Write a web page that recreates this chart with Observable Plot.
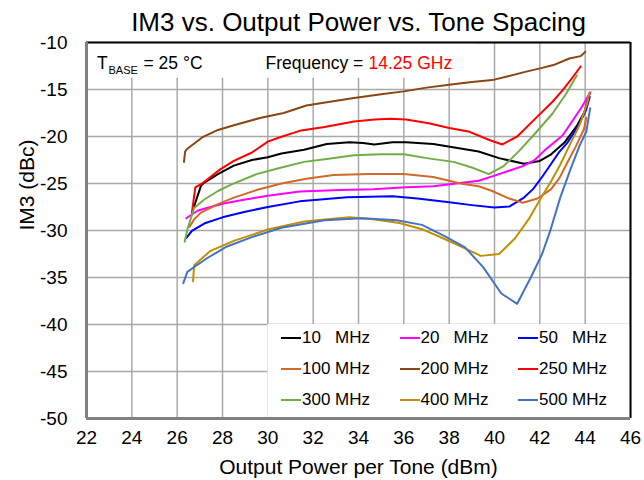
<!DOCTYPE html>
<html>
<head>
<meta charset="utf-8">
<script src="https://cdn.jsdelivr.net/npm/d3@7"></script>
<script src="https://cdn.jsdelivr.net/npm/@observablehq/plot@0.6"></script>
<style>
  html, body { margin: 0; padding: 0; background: #fff; }
  #wrap { position: relative; width: 644px; height: 480px; font-family: "Liberation Sans", Arial, sans-serif; }
  #wrap svg { position: absolute; left: 0; top: 0; }
  #legend { position: absolute; left: 267px; top: 323px; width: 363px; height: 95px; }
  .item { position: absolute; display: flex; align-items: center; font-size: 17px; white-space: pre; color: #000; line-height: 1; }
  .sw { display: inline-block; width: 20px; height: 2px; margin-right: 1px; }
</style>
</head>
<body>
<div id="wrap"></div>
<script>
// ---- data ----
const seriesNames = ["10   MHz", "20   MHz", "50   MHz", "100 MHz", "200 MHz", "250 MHz", "300 MHz", "400 MHz", "500 MHz"];
const seriesColors = ["#000000", "#FF00FF", "#0000FF", "#D0692A", "#8B4513", "#FF0000", "#70AD47", "#BF9000", "#4472C4"];

const pout10 = [26.75, 27.05, 27.2, 27.8, 28.5, 29.3, 30.0, 30.6, 31.6, 32.6, 33.6, 34.2, 34.7, 35.5, 36.1, 37.3, 38.3, 39.3, 40.2, 41.3, 42.0, 42.5, 43.1, 43.65, 43.97, 44.2];
const im3_10 = [-27.4, -25.25, -24.9, -24.0, -23.1, -22.5, -22.2, -21.8, -21.4, -20.8, -20.6, -20.7, -20.85, -20.6, -20.6, -20.8, -21.2, -21.6, -22.3, -22.9, -22.6, -21.9, -20.6, -18.8, -17.4, -15.4];

const pout20 = [26.4, 26.9, 27.3, 28.1, 29.0, 30.0, 31.4, 33.2, 34.65, 36.1, 37.3, 38.3, 39.3, 40.2, 41.25, 41.75, 42.2, 43.0, 43.45, 43.8, 44.04, 44.22];
const im3_20 = [-28.7, -27.9, -27.6, -27.1, -26.7, -26.3, -25.85, -25.7, -25.6, -25.4, -25.3, -25.0, -24.7, -24.0, -23.15, -22.55, -21.5, -19.9, -18.3, -17.05, -16.1, -15.3];

const pout50 = [26.4, 26.65, 27.25, 28.0, 29.0, 30.0, 31.4, 33.5, 35.5, 36.6, 38.0, 39.0, 40.0, 40.65, 41.3, 41.7, 42.13, 42.87, 43.2, 43.67, 44.04, 44.2];
const im3_50 = [-30.8, -30.05, -29.2, -28.6, -28.0, -27.5, -26.9, -26.45, -26.35, -26.6, -27.0, -27.3, -27.55, -27.45, -26.5, -25.6, -24.2, -21.6, -20.7, -19.0, -17.2, -15.8];

const pout100 = [26.55, 26.75, 27.05, 27.8, 28.5, 29.5, 30.6, 31.7, 32.9, 34.5, 36.0, 37.3, 38.5, 39.3, 39.9, 40.65, 41.25, 41.9, 42.5, 42.87, 43.25, 43.6, 43.95, 44.05];
const im3_100 = [-29.6, -28.8, -28.1, -27.2, -26.5, -25.7, -25.0, -24.5, -24.1, -24.0, -24.0, -24.3, -25.0, -25.3, -25.8, -26.6, -27.05, -26.6, -25.6, -24.4, -22.6, -21.0, -19.2, -18.0];

const pout200 = [26.3, 26.35, 26.45, 27.1, 27.8, 28.5, 29.7, 30.7, 31.7, 32.6, 33.8, 35.0, 36.0, 37.0, 38.0, 39.0, 39.9, 40.6, 41.4, 42.1, 42.6, 43.3, 43.8, 44.0];
const im3_200 = [-22.7, -21.6, -21.3, -20.1, -19.3, -18.8, -18.0, -17.5, -16.7, -16.35, -15.9, -15.5, -15.2, -14.8, -14.5, -14.2, -14.0, -13.6, -13.1, -12.7, -12.4, -11.7, -11.45, -11.0];

const pout250 = [26.65, 26.8, 27.1, 27.9, 28.5, 29.3, 30.0, 30.5, 31.4, 32.5, 33.8, 34.7, 35.4, 36.1, 37.1, 38.0, 38.9, 39.8, 40.35, 41.0, 41.8, 42.56, 43.0, 43.45, 43.8];
const im3_250 = [-28.1, -25.4, -25.0, -23.5, -22.6, -21.7, -20.55, -20.1, -19.4, -19.0, -18.4, -18.2, -18.1, -18.2, -18.6, -19.1, -19.5, -20.4, -20.85, -20.0, -18.1, -16.3, -15.1, -13.7, -12.55];

const pout300 = [26.33, 26.45, 26.75, 27.2, 27.8, 28.4, 29.5, 30.6, 31.6, 32.6, 33.8, 35.0, 36.0, 37.0, 38.2, 39.0, 39.75, 40.4, 41.1, 41.82, 42.56, 43.16, 43.63];
const im3_300 = [-31.2, -29.9, -27.6, -26.7, -25.8, -25.1, -24.0, -23.3, -22.7, -22.4, -22.0, -21.9, -21.9, -22.3, -22.7, -23.3, -24.0, -23.15, -21.5, -19.6, -17.55, -15.45, -13.5];

const pout400 = [26.7, 26.75, 27.45, 28.5, 30.0, 31.6, 33.6, 34.65, 35.8, 36.85, 37.7, 38.6, 39.4, 40.2, 40.9, 41.55, 42.06, 42.5, 42.9, 43.3, 43.75, 44.1, 44.18];
const im3_400 = [-35.4, -33.7, -32.2, -31.1, -29.9, -29.05, -28.6, -28.8, -29.2, -29.9, -30.8, -31.8, -32.7, -32.5, -30.85, -28.65, -26.5, -24.75, -23.0, -21.0, -18.8, -16.4, -15.4];

const pout500 = [26.27, 26.45, 26.8, 27.35, 28.2, 29.3, 30.6, 32.5, 34.15, 35.7, 36.8, 37.8, 38.7, 39.5, 40.3, 41.0, 41.6, 42.1, 42.45, 42.9, 43.35, 43.75, 44.05, 44.22];
const im3_500 = [-35.6, -34.4, -33.8, -32.9, -31.7, -30.7, -29.7, -28.9, -28.7, -28.9, -29.4, -30.6, -31.8, -33.9, -36.7, -37.8, -35.0, -32.5, -30.1, -26.5, -23.5, -21.0, -19.5, -17.0];

const xTicks = [22, 24, 26, 28, 30, 32, 34, 36, 38, 40, 42, 44, 46];
const yTicks = [-10, -15, -20, -25, -30, -35, -40, -45, -50];

const titleText = "IM3 vs. Output Power vs. Tone Spacing";
const xLabel = "Output Power per Tone (dBm)";
const yLabel = "IM3 (dBc)";
const freqLabel = "Frequency =";
const freqValue = "14.25 GHz";

// ---- build rows ----
const xs = [pout10, pout20, pout50, pout100, pout200, pout250, pout300, pout400, pout500];
const ys = [im3_10, im3_20, im3_50, im3_100, im3_200, im3_250, im3_300, im3_400, im3_500];
const rows = [];
seriesNames.forEach((s, i) => xs[i].forEach((x, j) => rows.push({s, x, y: ys[i][j]})));

// layout boxes (white backgrounds in data space)
const boxes = [
  {x1: 22, x2: 28, y1: -13.8, y2: -10},
  {x1: 28, x2: 39.2, y1: -13.8, y2: -10},
  {x1: 30, x2: 46, y1: -50, y2: -40}
];

const font = "Liberation Sans, Arial, sans-serif";
const grid = "#a9a9a9";

const plot = Plot.plot({
  width: 644, height: 480,
  marginTop: 42, marginBottom: 62, marginLeft: 86, marginRight: 14,
  style: {fontFamily: font, background: "white", overflow: "visible"},
  x: {domain: [22, 46], axis: null},
  y: {domain: [-50, -10], axis: null},
  color: {domain: seriesNames, range: seriesColors},
  marks: [
    Plot.gridX(xTicks, {stroke: grid, strokeOpacity: 1, strokeWidth: 1.5}),
    Plot.gridY(yTicks, {stroke: grid, strokeOpacity: 1, strokeWidth: 1.5}),
    Plot.rect(boxes, {x1: "x1", x2: "x2", y1: "y1", y2: "y2", fill: "white"}),
    Plot.ruleY([-10], {stroke: "#000", strokeWidth: 2}),
    Plot.ruleX([46], {stroke: "#000", strokeWidth: 2}),
    Plot.ruleX([22], {stroke: "#808080", strokeWidth: 3}),
    Plot.ruleY([-50], {stroke: "#808080", strokeWidth: 3}),
    Plot.line(rows, {x: "x", y: "y", z: "s", stroke: "s", strokeWidth: 2, strokeLinejoin: "round"}),
    Plot.text(xTicks, {x: d => d, frameAnchor: "bottom", dy: 12, lineAnchor: "top", fontSize: 19, fill: "#000"}),
    Plot.text(yTicks, {y: d => d, frameAnchor: "left", dx: -19, textAnchor: "end", fontSize: 19, fill: "#000"}),
    Plot.text([titleText], {frameAnchor: "top", dy: -12, lineAnchor: "bottom", fontSize: 26, fill: "#000"}),
    Plot.text([xLabel], {frameAnchor: "bottom", dy: 55, lineAnchor: "bottom", fontSize: 21, fill: "#000"}),
    Plot.text([yLabel], {frameAnchor: "left", dx: -59, rotate: -90, fontSize: 21, fill: "#000"}),
    Plot.text(["T"], {frameAnchor: "top-left", dx: 10.5, dy: 26, lineAnchor: "bottom", textAnchor: "start", fontSize: 17.5, fill: "#000"}),
    Plot.text(["BASE"], {frameAnchor: "top-left", dx: 22, dy: 31, lineAnchor: "bottom", textAnchor: "start", fontSize: 11, fill: "#000"}),
    Plot.text(["= 25 °C"], {frameAnchor: "top-left", dx: 57, dy: 26, lineAnchor: "bottom", textAnchor: "start", fontSize: 17.5, fill: "#000"}),
    Plot.text([freqLabel], {frameAnchor: "top-left", dx: 179, dy: 26, lineAnchor: "bottom", textAnchor: "start", fontSize: 17.5, fill: "#000"}),
    Plot.text([freqValue], {frameAnchor: "top-left", dx: 282, dy: 26, lineAnchor: "bottom", textAnchor: "start", fontSize: 17.5, fill: "#FF0000"})
  ]
});

const wrap = document.getElementById("wrap");
wrap.appendChild(plot);

// legend
const legend = document.createElement("div");
legend.id = "legend";
seriesNames.forEach((name, i) => {
  const col = i % 3, row = Math.floor(i / 3);
  const item = document.createElement("div");
  item.className = "item";
  item.style.left = (14 + col * 118.5) + "px";
  item.style.top = (6 + row * 31) + "px";
  const sw = document.createElement("span");
  sw.className = "sw";
  sw.style.background = seriesColors[i];
  const t = document.createElement("span");
  t.textContent = name;
  item.appendChild(sw);
  item.appendChild(t);
  legend.appendChild(item);
});
wrap.appendChild(legend);
</script>
</body>
</html>
